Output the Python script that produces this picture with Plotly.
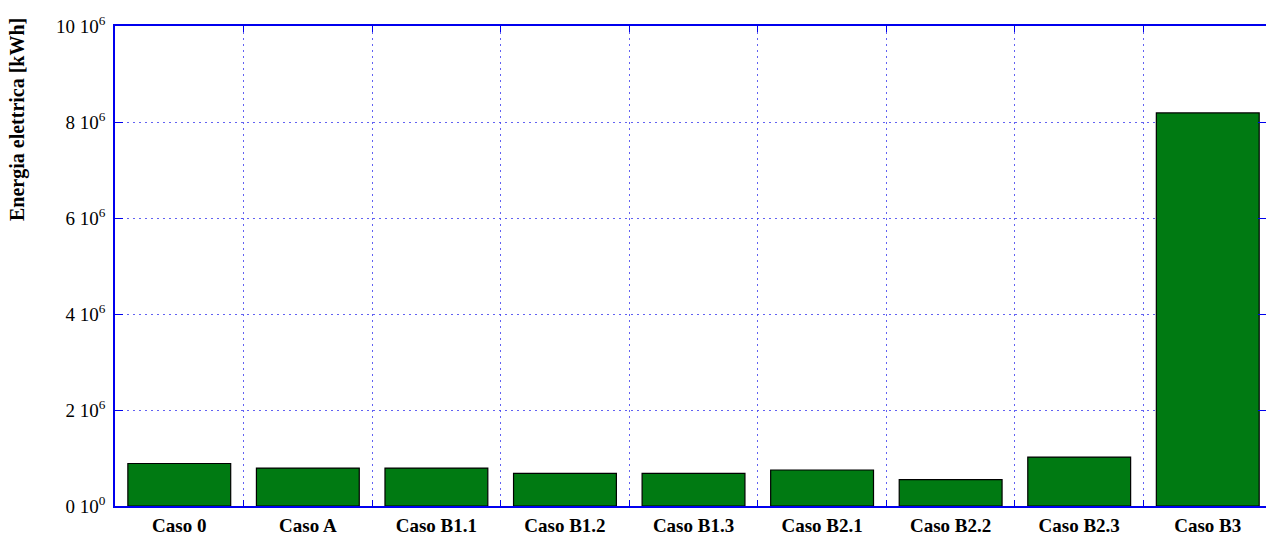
import plotly.graph_objects as go

categories = ["Caso 0", "Caso A", "Caso B1.1", "Caso B1.2", "Caso B1.3",
              "Caso B2.1", "Caso B2.2", "Caso B2.3", "Caso B3"]
energia_kwh = [0.885e6, 0.79e6, 0.79e6, 0.68e6, 0.68e6,
               0.75e6, 0.55e6, 1.02e6, 8.19e6]
y_tickvals = [0, 2e6, 4e6, 6e6, 8e6, 10e6]
y_ticktext = ["0 10<sup>0</sup>", "2 10<sup>6</sup>", "4 10<sup>6</sup>",
              "6 10<sup>6</sup>", "8 10<sup>6</sup>", "10 10<sup>6</sup>"]
y_title = "Energia elettrica [kWh]"

FONT = "Liberation Serif"
BLUE = "#0000ee"
GRID = "rgba(70,70,240,0.85)"

fig = go.Figure(go.Bar(
    x=categories, y=energia_kwh,
    marker=dict(color="#007a12", line=dict(color="black", width=1.2)),
    width=0.8,
))

fig.update_layout(
    width=1266, height=535,
    margin=dict(l=115, r=0, t=26, b=29, autoexpand=False),
    paper_bgcolor="white", plot_bgcolor="white",
    showlegend=False,
    font=dict(family=FONT, color="black", size=19),
    bargap=0.2,
    annotations=[dict(
        text=y_title, textangle=-90,
        xref="paper", yref="paper", x=0, y=(506 - 120) / 480,
        xanchor="center", yanchor="middle", xshift=-97,
        showarrow=False,
        font=dict(family=FONT, size=20, color="black", weight="bold"),
    )],
)
fig.update_xaxes(
    type="category",
    range=[-0.5, 8.453],
    tickson="boundaries",
    showgrid=True, gridcolor=GRID, griddash="2px,4px", gridwidth=1,
    ticks="inside", ticklen=6, tickcolor=BLUE,
    showline=True, linecolor=BLUE, linewidth=1.5, mirror="ticks",
    tickfont=dict(family=FONT, size=19, color="black", weight="bold"),
    ticklabelstandoff=1,
    zeroline=False,
    automargin=False,
)
fig.update_yaxes(
    range=[0, 10e6],
    tickvals=y_tickvals, ticktext=y_ticktext,
    showgrid=True, gridcolor=GRID, griddash="2px,4px", gridwidth=1,
    ticks="inside", ticklen=8, tickcolor=BLUE,
    showline=True, linecolor=BLUE, linewidth=1.5, mirror="ticks",
    tickfont=dict(family=FONT, size=19, color="black"),
    ticklabelstandoff=4,
    zeroline=False,
    automargin=False,
)

fig.write_html(
    "out.html",
    config=dict(displayModeBar=False),
    post_script="document.body.style.margin='0';document.body.style.overflow='hidden';",
)
